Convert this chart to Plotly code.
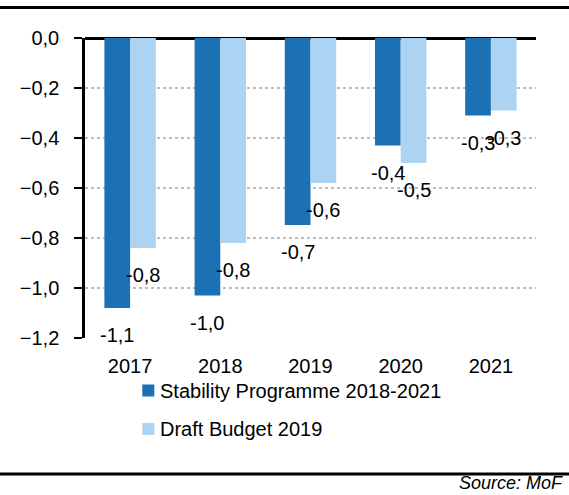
import plotly.graph_objects as go

# Budget balance projections (% of GDP)
years = ["2017", "2018", "2019", "2020", "2021"]
stability_programme = [-1.08, -1.03, -0.748, -0.43, -0.31]
draft_budget = [-0.84, -0.82, -0.58, -0.50, -0.29]
y_ticks = [0.0, -0.2, -0.4, -0.6, -0.8, -1.0, -1.2]

series_names = ["Stability Programme 2018-2021", "Draft Budget 2019"]
dark_blue = "#1b71b3"
light_blue = "#acd3f1"

FONT = "Liberation Sans, Arial, sans-serif"
FS = 20
W, H = 569, 495
ML, MR, MT, MB = 85, 33, 38, 157
PW, PH = W - ML - MR, H - MT - MB
BARGAP = 0.43


def px_x(x):
    return (x - ML) / PW


def px_y(y):
    return (H - MB - y) / PH


def fmt(v):
    return f"{v:.1f}".replace(".", ",")


fig = go.Figure()
for name, vals, col in [(series_names[0], stability_programme, dark_blue),
                        (series_names[1], draft_budget, light_blue)]:
    fig.add_trace(go.Bar(x=years, y=vals, name=name, marker_color=col,
                         marker_line_width=0, showlegend=False))

# value labels under each bar end
half = (1 - BARGAP) / 4
annotations = []
for offset, vals in [(-half, stability_programme), (half, draft_budget)]:
    for i, v in enumerate(vals):
        annotations.append(dict(x=i + offset, y=v, xref="x", yref="y",
                                text=fmt(v), showarrow=False, yshift=-27,
                                yanchor="middle", xanchor="center",
                                font=dict(family=FONT, size=FS, color="black")))

# legend drawn as swatches plus labels
shapes = []
for k, (name, col) in enumerate(zip(series_names, [dark_blue, light_blue])):
    cy = 390.5 + 38.5 * k
    shapes.append(dict(type="rect", xref="paper", yref="paper",
                       x0=px_x(142.3), x1=px_x(154.3),
                       y0=px_y(cy - 6), y1=px_y(cy + 6),
                       fillcolor=col, line_width=0))
    annotations.append(dict(x=px_x(157.5), y=px_y(cy), xref="paper", yref="paper",
                            text=name, showarrow=False, xanchor="left",
                            yanchor="middle",
                            font=dict(family=FONT, size=FS, color="black")))

# horizontal rules above and below the chart
for yy in (7.5, 474):
    shapes.append(dict(type="line", xref="paper", yref="paper",
                       x0=px_x(0), x1=px_x(W), y0=px_y(yy), y1=px_y(yy),
                       line=dict(color="black", width=3)))

annotations.append(dict(x=px_x(564), y=px_y(483), xref="paper", yref="paper",
                        text="<i>Source: MoF</i>", showarrow=False,
                        xanchor="right", yanchor="middle", borderpad=0,
                        font=dict(family=FONT, size=18, color="black")))

fig.update_layout(
    width=W, height=H,
    margin=dict(l=ML, r=MR, t=MT, b=MB),
    paper_bgcolor="white", plot_bgcolor="white",
    barmode="group", bargap=BARGAP, bargroupgap=0,
    separators=",.",
    font=dict(family=FONT, size=FS, color="black"),
    annotations=annotations, shapes=shapes,
    showlegend=False,
)
fig.update_xaxes(showgrid=False, showline=False, ticks="",
                 ticklabelstandoff=14,
                 tickfont=dict(family=FONT, size=FS, color="black"))
fig.update_yaxes(range=[-1.2, 0], tickvals=y_ticks, tickformat=".1f",
                 showgrid=True, gridcolor="#bdbdbd", griddash="dot", gridwidth=2,
                 zeroline=True, zerolinecolor="black", zerolinewidth=2.5,
                 showline=True, linecolor="black", linewidth=2.5,
                 ticks="outside", ticklen=8, tickwidth=2, tickcolor="black",
                 ticklabelstandoff=11,
                 tickfont=dict(family=FONT, size=FS, color="black"))

fig.write_html("out.html")
